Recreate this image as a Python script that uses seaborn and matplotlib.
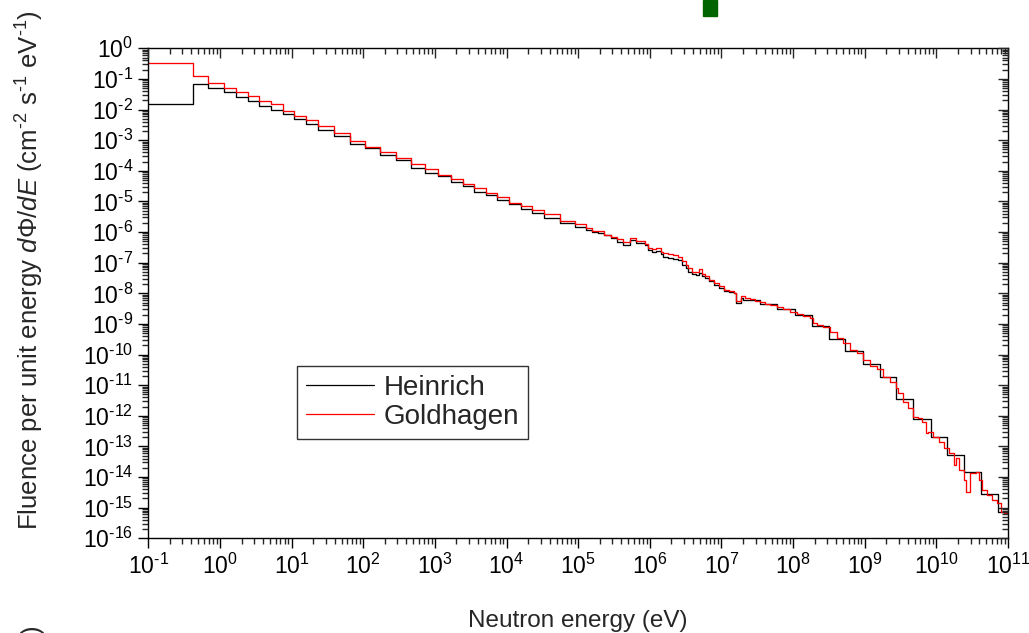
import numpy as np
import pandas as pd
import matplotlib
matplotlib.use("Agg")
import matplotlib.pyplot as plt
from matplotlib.ticker import LogLocator, NullFormatter, FuncFormatter
from matplotlib.patches import Rectangle
import seaborn as sns

# ---------------- data (log10 values) ----------------
heinrich_edges_log = [-1.0, -0.38, -0.16, 0.06, 0.23, 0.39, 0.55, 0.71, 0.88, 1.04, 1.20, 1.37,
                      1.59, 1.81, 2.02, 2.24, 2.46, 2.67, 2.86, 3.05, 3.22, 3.39, 3.54, 3.71,
                      3.87, 4.03, 4.20, 4.36, 4.52, 4.74, 4.96, 5.11, 5.20, 5.28, 5.36, 5.46,
                      5.54, 5.63, 5.72, 5.81, 5.94, 5.98, 6.03, 6.08, 6.15, 6.19, 6.26, 6.33,
                      6.40, 6.45, 6.50, 6.54, 6.59, 6.65, 6.68, 6.73, 6.77, 6.83, 6.89, 6.96,
                      7.03, 7.10, 7.17, 7.21, 7.27, 7.30, 7.54, 7.78, 8.02, 8.26, 8.50, 8.73,
                      8.97, 9.21, 9.44, 9.68, 9.92, 10.15, 10.38, 10.62, 10.86, 11.0]
heinrich_vals_log = [-1.82, -1.16, -1.30, -1.43, -1.58, -1.73, -1.87, -2.00, -2.15, -2.31, -2.47,
                     -2.67, -2.88, -3.11, -3.26, -3.48, -3.66, -3.90, -4.06, -4.18, -4.37, -4.51,
                     -4.68, -4.80, -4.96, -5.08, -5.26, -5.39, -5.53, -5.69, -5.82, -5.93, -6.00,
                     -6.02, -6.10, -6.20, -6.31, -6.42, -6.26, -6.35, -6.42, -6.60, -6.65, -6.63,
                     -6.71, -6.80, -6.85, -6.88, -6.92, -7.07, -7.18, -7.29, -7.37, -7.40, -7.35,
                     -7.42, -7.51, -7.61, -7.72, -7.83, -7.94, -7.97, -8.00, -8.33, -8.14, -8.22,
                     -8.35, -8.51, -8.71, -9.06, -9.49, -9.90, -10.31, -10.72, -11.46, -12.11,
                     -12.68, -13.28, -13.85, -14.55, -15.15]

goldhagen_edges_log = [-1.0, -0.38, -0.16, 0.06, 0.23, 0.39, 0.55, 0.71, 0.88, 1.04, 1.20, 1.37,
                       1.59, 1.81, 2.02, 2.24, 2.46, 2.67, 2.86, 3.05, 3.22, 3.39, 3.54, 3.71,
                       3.87, 4.03, 4.20, 4.36, 4.52, 4.74, 4.96, 5.11, 5.20, 5.28, 5.36, 5.46,
                       5.54, 5.63, 5.72, 5.81, 5.94, 5.98, 6.03, 6.08, 6.15, 6.19, 6.26, 6.33,
                       6.40, 6.45, 6.50, 6.54, 6.59, 6.65, 6.68, 6.73, 6.77, 6.83, 6.89, 6.96,
                       7.03, 7.10, 7.17, 7.21, 7.27, 7.33, 7.40, 7.47, 7.54, 7.61, 7.68, 7.78,
                       7.86, 7.96, 8.05, 8.14, 8.24, 8.28, 8.33, 8.42, 8.52, 8.61, 8.70, 8.80,
                       8.89, 8.98, 9.08, 9.17, 9.26, 9.35, 9.44, 9.47, 9.54, 9.61, 9.68, 9.75,
                       9.80, 9.85, 9.89, 9.96, 10.03, 10.10, 10.17, 10.24, 10.27, 10.31, 10.38,
                       10.42, 10.47, 10.55, 10.59, 10.64, 10.71, 10.78, 10.85, 10.90, 10.95, 11.0]
goldhagen_vals_log = [-0.47, -0.89, -1.14, -1.29, -1.43, -1.57, -1.73, -1.82, -2.04, -2.20, -2.33,
                      -2.55, -2.75, -3.02, -3.22, -3.37, -3.57, -3.77, -3.93, -4.14, -4.28, -4.43,
                      -4.56, -4.72, -4.85, -5.04, -5.14, -5.28, -5.42, -5.64, -5.74, -5.86, -5.95,
                      -5.97, -6.10, -6.17, -6.24, -6.33, -6.20, -6.29, -6.39, -6.52, -6.56, -6.51,
                      -6.64, -6.69, -6.72, -6.74, -6.80, -6.96, -7.07, -7.18, -7.29, -7.32, -7.21,
                      -7.37, -7.45, -7.56, -7.67, -7.75, -7.88, -7.92, -8.00, -8.25, -8.08, -8.16,
                      -8.20, -8.25, -8.30, -8.34, -8.38, -8.44, -8.52, -8.60, -8.68, -8.73, -8.82,
                      -8.96, -9.03, -9.11, -9.25, -9.47, -9.63, -9.85, -9.96, -10.18, -10.37,
                      -10.48, -10.72, -10.88, -11.10, -11.27, -11.54, -11.76, -12.03, -12.08,
                      -12.19, -12.55, -12.52, -12.68, -12.84, -13.06, -13.20, -13.60, -13.39,
                      -13.77, -14.10, -14.48, -13.88, -13.82, -14.10, -14.42, -14.58, -14.75,
                      -14.85, -15.13, -15.18]

series_names = ["Heinrich", "Goldhagen"]
series_colors = ["#000000", "#ff0000"]
x_decades = list(range(-1, 12))
y_decades = list(range(-16, 1))


def step_frame(edges_log, vals_log, name):
    e = 10.0 ** np.asarray(edges_log)
    v = 10.0 ** np.asarray(vals_log)
    v = np.append(v, v[-1])
    return pd.DataFrame({"E": e, "F": v, "series": name})


df = pd.concat([step_frame(heinrich_edges_log, heinrich_vals_log, series_names[0]),
                step_frame(goldhagen_edges_log, goldhagen_vals_log, series_names[1])],
               ignore_index=True)

# ---------------- style ----------------
sns.set_style("white")
plt.rcParams["font.family"] = ["Liberation Sans", "DejaVu Sans"]
plt.rcParams["mathtext.fontset"] = "custom"
plt.rcParams["mathtext.rm"] = "Liberation Sans"
plt.rcParams["mathtext.it"] = "Liberation Sans:italic"
plt.rcParams["mathtext.bf"] = "Liberation Sans:bold"
plt.rcParams["axes.unicode_minus"] = False


def pow_fmt(val, pos):
    e = int(round(np.log10(val)))
    s = str(e).replace("-", r"\text{-}")
    return r"$\mathdefault{10^{%s}}$" % s


fig = plt.figure(figsize=(10.29, 6.33), dpi=100)
L, R, T, B = 148.3 / 1029, 1008 / 1029, 1 - 48.3 / 633, 1 - 538.3 / 633
ax = fig.add_axes([L, B, R - L, T - B])

for name, col in zip(series_names, series_colors):
    sub = df[df["series"] == name]
    sns.lineplot(data=sub, x="E", y="F", ax=ax, color=col, lw=0.95,
                 drawstyle="steps-post", estimator=None, sort=False, label=name)

ax.set_xscale("log")
ax.set_yscale("log")
ax.set_xlim(10.0 ** x_decades[0], 10.0 ** x_decades[-1])
ax.set_ylim(10.0 ** y_decades[0], 10.0 ** y_decades[-1])
ax.set_xticks([10.0 ** d for d in x_decades])
ax.set_yticks([10.0 ** d for d in y_decades])
ax.xaxis.set_major_formatter(FuncFormatter(pow_fmt))
ax.yaxis.set_major_formatter(FuncFormatter(pow_fmt))
ax.xaxis.set_minor_locator(LogLocator(base=10, subs=np.arange(2, 10), numticks=200))
ax.yaxis.set_minor_locator(LogLocator(base=10, subs=np.arange(2, 10), numticks=200))
ax.xaxis.set_minor_formatter(NullFormatter())
ax.yaxis.set_minor_formatter(NullFormatter())
ax.tick_params(which="major", direction="out", length=7, width=1.0, labelsize=16.5,
               colors="black", pad=4)
ax.tick_params(which="minor", direction="out", length=4, width=1.0)
ax.tick_params(bottom=True, left=True, which="both")
ax.grid(False)
for s in ax.spines.values():
    s.set_color("black")
    s.set_linewidth(1.0)

# mirrored inward ticks on top and right
ax2 = fig.add_axes(ax.get_position(), frameon=False)
ax2.set_xscale("log")
ax2.set_yscale("log")
ax2.set_xlim(ax.get_xlim())
ax2.set_ylim(ax.get_ylim())
ax2.set_xticks([10.0 ** d for d in x_decades])
ax2.set_yticks([10.0 ** d for d in y_decades])
ax2.xaxis.set_minor_locator(LogLocator(base=10, subs=np.arange(2, 10), numticks=200))
ax2.yaxis.set_minor_locator(LogLocator(base=10, subs=np.arange(2, 10), numticks=200))
ax2.xaxis.tick_top()
ax2.yaxis.tick_right()
ax2.tick_params(which="both", labeltop=False, labelright=False, labelbottom=False,
                labelleft=False, direction="in")
ax2.tick_params(which="major", length=7, width=1.0)
ax2.tick_params(which="minor", length=4, width=1.0)
ax2.patch.set_visible(False)

ax.set_xlabel("Neutron energy (eV)", fontsize=17.5)
ax.set_ylabel(r"Fluence per unit energy $d\Phi/dE$ (cm$^{\text{-}2}$ s$^{\text{-}1}$ eV$^{\text{-}1}$)",
              fontsize=18.5)
ax.xaxis.set_label_coords(0.5, -0.146)
ax.yaxis.set_label_coords(-0.119, 0.548)

leg = ax.legend(loc="upper left", bbox_to_anchor=(0.173, 0.352), borderaxespad=0,
                fontsize=20, frameon=True, fancybox=False, handlelength=2.45,
                handletextpad=0.36, borderpad=0.32, labelspacing=0.12)
leg.get_frame().set_edgecolor("black")
leg.get_frame().set_linewidth(1.0)
for h in leg.get_lines():
    h.set_linewidth(0.9)

# crop artefacts visible in the reference
fig.patches.append(Rectangle((703 / 1029, 1 - 15.5 / 633), 14 / 1029, 15.5 / 633,
                             transform=fig.transFigure, color="#006400", zorder=5))
fig.text(33 / 1029, 1 - 630 / 633, ")", rotation=90, fontsize=18.5, ha="center", va="center")

fig.savefig("out.png", dpi=100)
